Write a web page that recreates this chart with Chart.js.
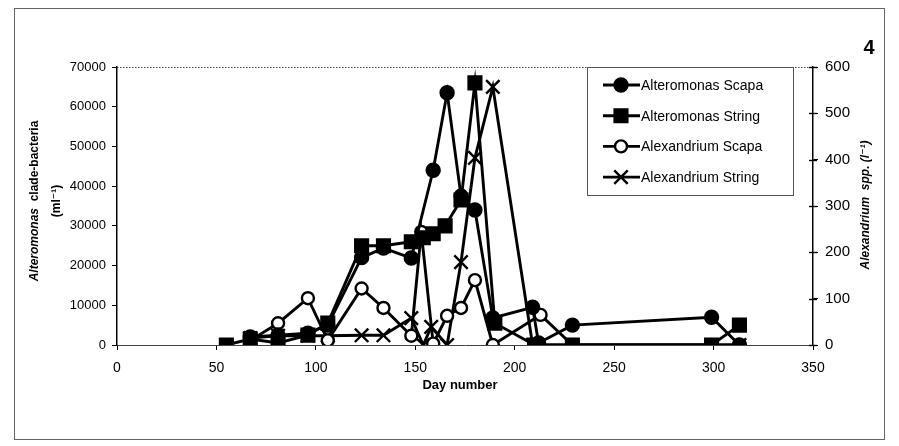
<!DOCTYPE html>
<html>
<head>
<meta charset="utf-8">
<script src="https://cdn.jsdelivr.net/npm/chart.js@4"></script>
<style>
  html, body { margin: 0; padding: 0; background: #fff; }
  #wrap { width: 899px; height: 446px; }
</style>
</head>
<body>
<div id="wrap"><canvas id="chart" width="899" height="446"></canvas></div>
<script>
// days and values
const alteroScapaDays = [67, 81, 96, 106, 123, 134, 148, 159, 166, 173, 180, 189, 209, 212, 229, 299, 313];
const alteroScapaVals = [2000, 2500, 3000, 5000, 22000, 24400, 21900, 44000, 63500, 37500, 34000, 6800, 9500, 500, 5000, 7000, 0];

const alteroStringDays = [55, 67, 81, 96, 106, 123, 134, 148, 154, 159, 165, 173, 180, 190, 210, 229, 299, 313];
const alteroStringVals = [0, 1500, 500, 2500, 5500, 25000, 25000, 26000, 27000, 28000, 30000, 36500, 66000, 5500, 0, 0, 0, 5000];

const alexScapaDays = [67, 81, 96, 106, 123, 134, 148, 153, 159, 166, 173, 180, 189, 213, 229, 299, 313];
const alexScapaVals = [10, 47, 101, 10, 122, 80, 20, 244, 3, 63, 80, 140, 0, 65, 0, 0, 0];

const alexStringDays = [67, 81, 96, 106, 123, 134, 148, 154, 158, 166, 173, 180, 189, 209, 313];
const alexStringVals = [15, 20, 20, 20, 21, 21, 58, 0, 39, 0, 179, 404, 557, 0, 0];

const xTicks = [0, 50, 100, 150, 200, 250, 300, 350];
const leftTicks = [0, 10000, 20000, 30000, 40000, 50000, 60000, 70000];
const rightTicks = [0, 100, 200, 300, 400, 500, 600];

const FONT = '"Liberation Sans", Arial, "DejaVu Sans", sans-serif';

function pts(days, vals) {
  return days.map((d, i) => ({ x: d, y: vals[i] }));
}

function series(label, days, vals, axis, style, radius, fill) {
  return {
    label: label,
    data: pts(days, vals),
    yAxisID: axis,
    showLine: true,
    borderColor: '#000',
    borderWidth: 2.9,
    pointStyle: style,
    pointRadius: radius,
    pointBorderWidth: 2.4,
    pointBackgroundColor: fill,
    pointBorderColor: '#000'
  };
}

const decor = {
  id: 'decor',
  afterDraw(chart) {
    const ctx = chart.ctx;
    const a = chart.chartArea;
    ctx.save();

    // outer frame
    ctx.strokeStyle = '#666';
    ctx.lineWidth = 1;
    ctx.strokeRect(14.5, 8.5, 870, 431);

    // dotted top edge of plot
    ctx.strokeStyle = '#444';
    ctx.setLineDash([1.5, 1.5]);
    ctx.beginPath();
    ctx.moveTo(a.left, a.top + 0.5);
    ctx.lineTo(a.right, a.top + 0.5);
    ctx.stroke();
    ctx.setLineDash([]);

    // right axis ticks crossing the line
    const r = chart.scales.y1;
    ctx.strokeStyle = '#000';
    ctx.lineWidth = 1.4;
    rightTicks.forEach(v => {
      const y = Math.round(r.getPixelForValue(v)) + 0.5;
      ctx.beginPath();
      ctx.moveTo(a.right - 4, y);
      ctx.lineTo(a.right + 4, y);
      ctx.stroke();
    });

    ctx.fillStyle = '#000';
    ctx.textBaseline = 'middle';

    // left axis title, two lines, rotated
    ctx.save();
    ctx.translate(35, 201);
    ctx.rotate(-Math.PI / 2);
    const p1 = 'Alteromonas', p2 = '  clade-bacteria';
    ctx.font = 'italic bold 12px ' + FONT;
    const w1 = ctx.measureText(p1).width;
    ctx.font = 'bold 12px ' + FONT;
    const w2 = ctx.measureText(p2).width;
    let sx = -(w1 + w2) / 2;
    ctx.textAlign = 'left';
    ctx.font = 'italic bold 12px ' + FONT;
    ctx.fillText(p1, sx, 0);
    ctx.font = 'bold 12px ' + FONT;
    ctx.fillText(p2, sx + w1, 0);
    ctx.textAlign = 'center';
    ctx.fillText('(ml\u207B\u00B9)', 0, 22);
    ctx.restore();

    // right axis title
    ctx.save();
    ctx.translate(866, 205);
    ctx.rotate(-Math.PI / 2);
    ctx.textAlign = 'center';
    ctx.font = 'italic bold 12px ' + FONT;
    ctx.fillText('Alexandrium  spp. (l\u207B\u00B9)', 0, 0);
    ctx.restore();

    // x axis title
    ctx.textAlign = 'center';
    ctx.font = 'bold 13px ' + FONT;
    ctx.fillText('Day number', 460, 385);

    // panel number
    ctx.font = 'bold 20px ' + FONT;
    ctx.fillText('4', 869, 48);

    // legend box
    ctx.fillStyle = '#fff';
    ctx.fillRect(587, 67, 206, 128);
    ctx.strokeStyle = '#555';
    ctx.lineWidth = 1;
    ctx.strokeRect(587.5, 67.5, 206, 128);
    ctx.textAlign = 'left';
    ctx.font = '14px ' + FONT;
    chart.data.datasets.forEach((ds, i) => {
      const y = 85 + i * 30.7;
      ctx.strokeStyle = '#000';
      ctx.lineWidth = 2.9;
      ctx.beginPath();
      ctx.moveTo(603, y);
      ctx.lineTo(640, y);
      ctx.stroke();
      ctx.fillStyle = ds.pointBackgroundColor;
      ctx.strokeStyle = '#000';
      ctx.lineWidth = ds.pointBorderWidth;
      Chart.helpers.drawPoint(ctx, { pointStyle: ds.pointStyle, radius: ds.pointRadius, rotation: 0, borderWidth: ds.pointBorderWidth }, 621, y);
      ctx.fillStyle = '#000';
      ctx.fillText(ds.label, 641, y + 1);
    });

    ctx.restore();
  }
};

new Chart(document.getElementById('chart'), {
  type: 'scatter',
  data: {
    datasets: [
      series('Alteromonas Scapa', alteroScapaDays, alteroScapaVals, 'y', 'circle', 6.5, '#000'),
      series('Alteromonas String', alteroStringDays, alteroStringVals, 'y', 'rect', 9, '#000'),
      series('Alexandrium Scapa', alexScapaDays, alexScapaVals, 'y1', 'circle', 6, '#fff'),
      series('Alexandrium String', alexStringDays, alexStringVals, 'y1', 'crossRot', 9.5, '#fff')
    ]
  },
  options: {
    responsive: false,
    animation: false,
    layout: { padding: { top: 67, left: 0, right: 0, bottom: 0 } },
    plugins: { legend: { display: false }, tooltip: { enabled: false } },
    scales: {
      x: {
        type: 'linear', min: 0, max: 350,
        afterBuildTicks: s => { s.ticks = xTicks.map(v => ({ value: v })); },
        afterFit: s => { s.height = 101; },
        grid: { drawOnChartArea: false, color: '#000', tickLength: 5 },
        border: { color: '#444', dash: [1.5, 1.5], width: 1 },
        ticks: { color: '#000', padding: 10, font: { family: FONT, size: 14 } }
      },
      y: {
        position: 'left', min: 0, max: 70000,
        afterBuildTicks: s => { s.ticks = leftTicks.map(v => ({ value: v })); },
        afterFit: s => { s.width = 117; },
        grid: { drawOnChartArea: false, color: '#000', tickLength: 5 },
        border: { color: '#000', width: 1.5 },
        ticks: { color: '#000', padding: 6, font: { family: FONT, size: 13 }, callback: v => String(v) }
      },
      y1: {
        position: 'right', min: 0, max: 600,
        afterBuildTicks: s => { s.ticks = rightTicks.map(v => ({ value: v })); },
        afterFit: s => { s.width = 86; },
        grid: { drawOnChartArea: false, color: '#000', tickLength: 5 },
        border: { color: '#000', width: 1.5 },
        ticks: { color: '#000', padding: 7, font: { family: FONT, size: 15 } }
      }
    }
  },
  plugins: [decor]
});
</script>
</body>
</html>
